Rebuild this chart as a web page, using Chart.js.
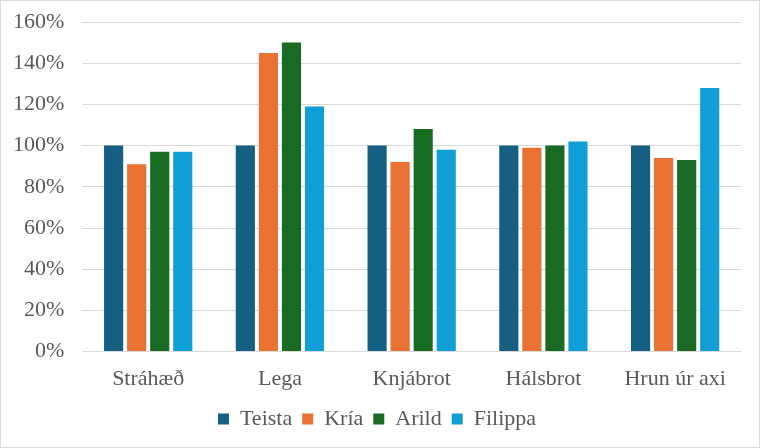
<!DOCTYPE html>
<html>
<head>
<meta charset="utf-8">
<script src="https://cdn.jsdelivr.net/npm/chart.js@4"></script>
<style>
  html, body { margin: 0; padding: 0; background: #fff; }
  #wrap { width: 758px; height: 446px; border: 1px solid #d9d9d9; position: relative; }
</style>
</head>
<body>
<div id="wrap"><canvas id="c"></canvas></div>
<script>
(function () {
  "use strict";

  var categories = ["Stráhæð", "Lega", "Knjábrot", "Hálsbrot", "Hrun úr axi"];
  var teista = [100, 100, 100, 100, 100];
  var kria = [91, 145, 92, 99, 94];
  var arild = [97, 150, 108, 100, 93];
  var filippa = [97, 119, 98, 102, 128];

  var FONT = "'Liberation Serif', 'Times New Roman', serif";
  var TEXT = "#595959";

  function series(label, data, color) {
    return {
      label: label,
      data: data,
      backgroundColor: color,
      borderWidth: 0,
      categoryPercentage: 0.7,
      barPercentage: 0.83,
    };
  }

  new Chart(document.getElementById("c").getContext("2d"), {
    type: "bar",
    data: {
      labels: categories,
      datasets: [
        series("Teista", teista, "#156082"),
        series("Kría", kria, "#E97132"),
        series("Arild", arild, "#196B24"),
        series("Filippa", filippa, "#0F9ED5"),
      ],
    },
    options: {
      responsive: true,
      maintainAspectRatio: false,
      animation: false,
      layout: { padding: { left: 12, right: 18, top: 21, bottom: 7 } },
      plugins: {
        tooltip: { enabled: false },
        legend: {
          position: "bottom",
          labels: {
            color: TEXT,
            font: { family: FONT, size: 22 },
            boxWidth: 11,
            boxHeight: 11,
            padding: 10,
          },
        },
      },
      scales: {
        x: {
          grid: { display: false },
          border: { color: "#d9d9d9" },
          ticks: { color: TEXT, font: { family: FONT, size: 22 }, padding: 6 },
        },
        y: {
          min: 0,
          max: 160,
          grid: { color: "#d9d9d9", drawTicks: true, tickLength: 18, tickColor: "rgba(0,0,0,0)" },
          border: { display: false },
          ticks: {
            stepSize: 20,
            color: TEXT,
            font: { family: FONT, size: 22 },
            padding: 0,
            callback: function (v) { return v + "%"; },
          },
        },
      },
    },
  });
})();
</script>
</body>
</html>
